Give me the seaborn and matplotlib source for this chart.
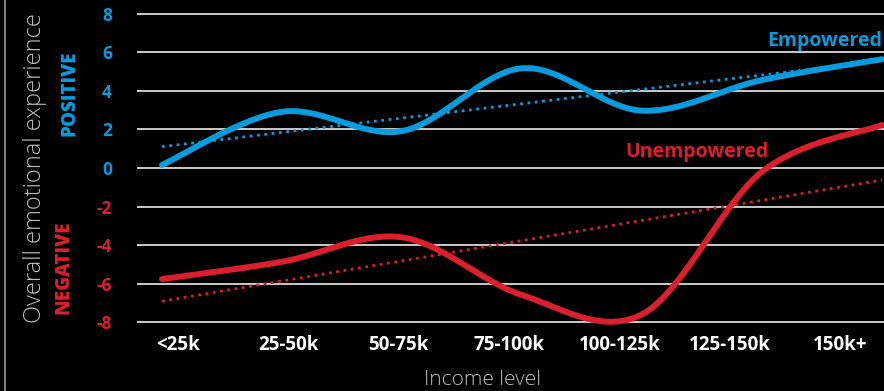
import numpy as np
import pandas as pd
import matplotlib
matplotlib.use("Agg")
import matplotlib.pyplot as plt
from matplotlib.lines import Line2D
import seaborn as sns

# Income brackets and average emotional-experience scores
categories = ["<25k", "25-50k", "50-75k", "75-100k", "100-125k", "125-150k", "150k+"]
empowered = [0.16, 2.92, 1.92, 5.18, 2.98, 4.57, 5.65]
unempowered = [-5.77, -4.87, -3.60, -6.60, -7.60, -0.19, 2.23]
y_ticks = [8, 6, 4, 2, 0, -2, -4, -6, -8]

BLUE = "#069CDD"
RED = "#DB1F2D"
GREY = "#BDBDBD"
BG = "#000000"


def smooth(xs, ys, n=40):
    """Catmull-Rom curve through the points (same look as a smoothed line chart)."""
    xs = np.asarray(xs, float)
    ys = np.asarray(ys, float)
    px = np.concatenate([[xs[0]], xs, [xs[-1]]])
    py = np.concatenate([[ys[0]], ys, [ys[-1]]])
    out_x, out_y = [], []
    t = np.linspace(0, 1, n, endpoint=False)
    for i in range(1, len(px) - 2):
        for arr, out in ((px, out_x), (py, out_y)):
            p0, p1, p2, p3 = arr[i - 1], arr[i], arr[i + 1], arr[i + 2]
            c1 = p1 + (p2 - p0) / 6
            c2 = p2 - (p3 - p1) / 6
            out.extend((1 - t) ** 3 * p1 + 3 * (1 - t) ** 2 * t * c1
                       + 3 * (1 - t) * t ** 2 * c2 + t ** 3 * p2)
    out_x.append(xs[-1])
    out_y.append(ys[-1])
    return np.array(out_x), np.array(out_y)


sns.set_theme(style="dark")
plt.rcParams["axes.unicode_minus"] = False
plt.rcParams["font.family"] = ["Open Sans", "DejaVu Sans"]

fig = plt.figure(figsize=(8.84, 3.91), dpi=100, facecolor=BG)
ax = fig.add_axes([137 / 884, 1 - 327.8 / 391, 1 - 137 / 884, (327.8 - 8.2) / 391])
ax.set_facecolor(BG)

pos = np.arange(len(categories))
df = pd.DataFrame({"pos": pos, "empowered": empowered, "unempowered": unempowered})

# gridlines
for v in y_ticks:
    ax.axhline(v, color="#DADADA", lw=1.3, zorder=0)

# linear trend lines
sns.regplot(data=df, x="pos", y="empowered", scatter=False, ci=None, ax=ax,
            line_kws=dict(color=BLUE, ls=":", lw=2, zorder=2))
sns.regplot(data=df, x="pos", y="unempowered", scatter=False, ci=None, ax=ax,
            line_kws=dict(color=RED, ls=":", lw=2, zorder=2))

# smoothed series
for vals, col in ((empowered, BLUE), (unempowered, RED)):
    sx, sy = smooth(pos, vals)
    sns.lineplot(x=sx, y=sy, sort=False, color=col, lw=4.3, ax=ax, zorder=3,
                 solid_capstyle="round")

ax.set_xlim((137 - 162) / 120, (884 - 162) / 120)
ax.set_ylim(-8.3, 8.3)

tick_pos = [0.133 + 0.92 * k for k in range(len(categories))]
ax.set_xticks(tick_pos)
ax.set_xticklabels(categories, color="white", fontsize=13.5, fontweight="bold")
ax.set_yticks(y_ticks)
ax.set_yticklabels([str(v) for v in y_ticks], fontsize=12.5, fontweight="bold")
for lab, v in zip(ax.get_yticklabels(), y_ticks):
    lab.set_color(BLUE if v >= 0 else RED)
ax.tick_params(axis="y", length=0, pad=18)
ax.tick_params(axis="x", length=0, pad=5)
for s in ax.spines.values():
    s.set_visible(False)
ax.grid(False)

ax.set_xlabel("")
ax.set_ylabel("")

# series labels
fig.text(882 / 884, 1 - 41 / 391, "Empowered", color=BLUE, fontsize=14,
         fontweight="bold", va="center", ha="right")
ax.text(3.86, 0.83, "Unempowered", color=RED, fontsize=14, fontweight="bold",
        va="center", ha="left")

# axis titles
fig.text(483 / 884, 1 - 380 / 391, "Income level", color=GREY, fontsize=15,
         fontweight="light", ha="center", va="center")
fig.text(35 / 884, 1 - 168 / 391, "Overall emotional experience", rotation=90,
         color=GREY, fontsize=17, fontweight="light", ha="center", va="center")
fig.text(69 / 884, 1 - 93 / 391, "POSITIVE", rotation=90, color=BLUE,
         fontsize=13.5, fontweight="heavy", ha="center", va="center")
fig.text(64 / 884, 1 - 267 / 391, "NEGATIVE", rotation=90, color=RED,
         fontsize=13.5, fontweight="heavy", ha="center", va="center")

# panel frame edge
fig.add_artist(Line2D([4.5 / 884, 4.5 / 884], [0, 1], color="#9a9a9a", lw=1.2,
                      transform=fig.transFigure))

fig.savefig("out.png", dpi=100, facecolor=BG)
